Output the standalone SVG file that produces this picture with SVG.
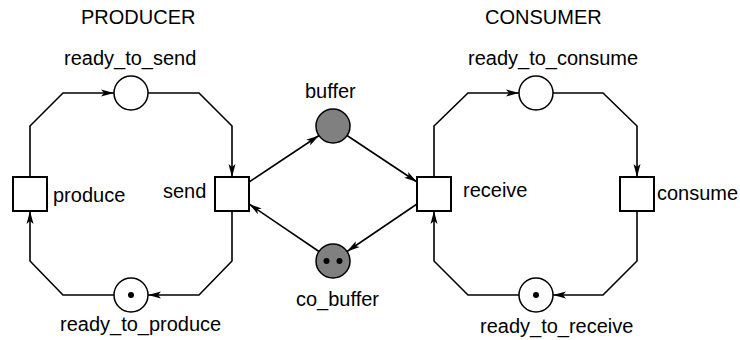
<svg xmlns="http://www.w3.org/2000/svg" width="740" height="340" viewBox="0 0 740 340">
  <style>
    .lbl { font-family: "Liberation Sans", Arial, Helvetica, sans-serif; font-size: 20px; fill: #000; }
    .place { fill: #fff; stroke: #000; stroke-width: 1.5; }
    .place.shared { fill: #808080; }
    .trans { fill: #fff; stroke: #000; stroke-width: 2; }
    .token { fill: #000; }
    .arc { fill: none; stroke: #000; stroke-width: 1.6; marker-end: url(#head); }
  </style>
  <defs>
    <marker id="head" markerUnits="userSpaceOnUse" markerWidth="14" markerHeight="10" refX="13" refY="4" orient="auto" viewBox="0 0 14 8">
      <path d="M13,4 L0,0.5 L3,4 L0,7.5 Z" fill="#000"/>
    </marker>
  </defs>

  <rect width="740" height="340" fill="#fff"/>

  <!-- section headings -->
  <text class="lbl" x="81" y="24">PRODUCER</text>
  <text class="lbl" x="485" y="24">CONSUMER</text>

  <!-- arcs -->
  <g id="arcs">
    <!-- producer loop -->
    <polyline class="arc" points="30,177 30,126 63,93 114,93"/>
    <polyline class="arc" points="148,93 199,93 232,126 232,177"/>
    <polyline class="arc" points="232,211 232,261 199,295 148,295"/>
    <polyline class="arc" points="114,295 63,295 30,261 30,211"/>
    <!-- consumer loop -->
    <polyline class="arc" points="434,177 434,126 468,93 519,93"/>
    <polyline class="arc" points="553,93 603,93 637,126 637,177"/>
    <polyline class="arc" points="637,211 637,261 603,295 553,295"/>
    <polyline class="arc" points="519,295 468,295 434,261 434,211"/>
    <!-- buffers between the two processes -->
    <line class="arc" x1="249" y1="182" x2="319" y2="135.5"/>
    <line class="arc" x1="347" y1="135.5" x2="417" y2="182"/>
    <line class="arc" x1="417" y1="204" x2="347" y2="251.5"/>
    <line class="arc" x1="319" y1="251.5" x2="249" y2="204"/>
  </g>

  <!-- places -->
  <g id="ready_to_send">
    <circle class="place" cx="131" cy="93" r="17"/>
    <text class="lbl" x="64" y="65">ready_to_send</text>
  </g>
  <g id="ready_to_produce">
    <circle class="place" cx="131" cy="295" r="17"/>
    <circle class="token" cx="131" cy="295" r="3"/>
    <text class="lbl" x="60" y="331">ready_to_produce</text>
  </g>
  <g id="buffer">
    <circle class="place shared" cx="333" cy="126" r="17"/>
    <text class="lbl" x="305" y="98">buffer</text>
  </g>
  <g id="co_buffer">
    <circle class="place shared" cx="333" cy="261" r="17"/>
    <circle class="token" cx="326.5" cy="261" r="3"/>
    <circle class="token" cx="339.5" cy="261" r="3"/>
    <text class="lbl" x="296" y="306">co_buffer</text>
  </g>
  <g id="ready_to_consume">
    <circle class="place" cx="536" cy="93" r="17"/>
    <text class="lbl" x="468" y="65">ready_to_consume</text>
  </g>
  <g id="ready_to_receive">
    <circle class="place" cx="536" cy="295" r="17"/>
    <circle class="token" cx="536" cy="295" r="3"/>
    <text class="lbl" x="480" y="333">ready_to_receive</text>
  </g>

  <!-- transitions -->
  <g id="produce">
    <rect class="trans" x="13" y="177" width="34" height="34"/>
    <text class="lbl" x="53" y="202">produce</text>
  </g>
  <g id="send">
    <rect class="trans" x="215" y="177" width="34" height="34"/>
    <text class="lbl" x="163" y="198">send</text>
  </g>
  <g id="receive">
    <rect class="trans" x="417" y="177" width="34" height="34"/>
    <text class="lbl" x="463" y="197">receive</text>
  </g>
  <g id="consume">
    <rect class="trans" x="620" y="177" width="34" height="34"/>
    <text class="lbl" x="657" y="200">consume</text>
  </g>
</svg>
